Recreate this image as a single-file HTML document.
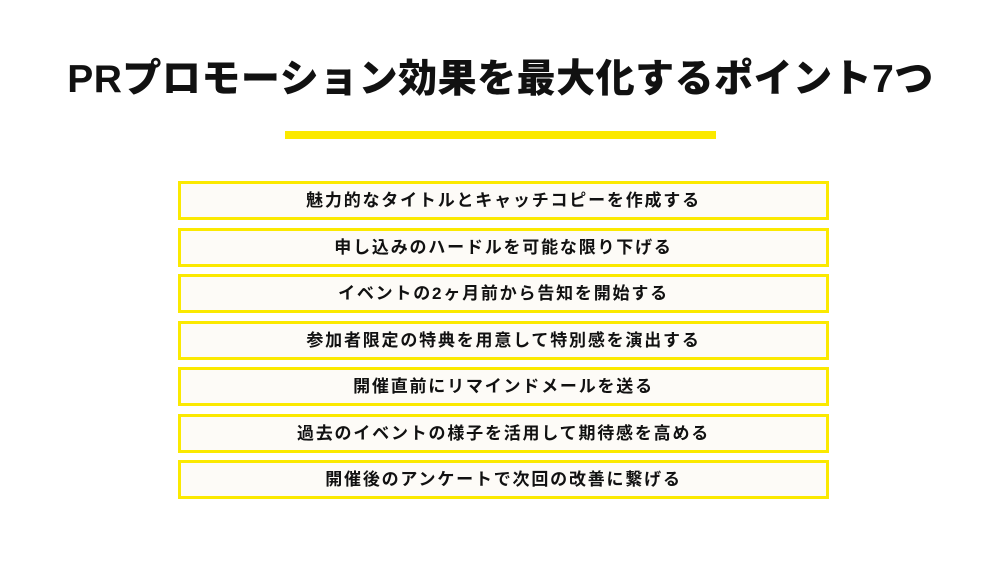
<!DOCTYPE html>
<html><head><meta charset="utf-8"><style>
body{margin:0;width:1001px;height:563px;background:#fff;position:relative;overflow:hidden;font-family:"Liberation Sans","Noto Sans CJK JP",sans-serif;}
h1{position:absolute;top:52px;left:0;width:1001px;text-align:center;margin:0;font-size:39px;font-weight:900;color:#111;line-height:56px;letter-spacing:0.5px}
.bar{position:absolute;left:285px;top:131px;width:431px;height:8px;background:#fbe900}
.box{position:absolute;left:178px;width:645px;height:33px;border:3px solid #fbe900;background:#fdfbf7;text-align:center;font-size:17px;font-weight:bold;line-height:33px;color:#111;letter-spacing:1.8px}
</style></head><body>
<h1>PRプロモーション効果を最大化するポイント7つ</h1>
<div class="bar"></div>
<div class="box" style="top:181px">魅力的なタイトルとキャッチコピーを作成する</div>
<div class="box" style="top:228px">申し込みのハードルを可能な限り下げる</div>
<div class="box" style="top:274px">イベントの2ヶ月前から告知を開始する</div>
<div class="box" style="top:321px">参加者限定の特典を用意して特別感を演出する</div>
<div class="box" style="top:367px">開催直前にリマインドメールを送る</div>
<div class="box" style="top:414px">過去のイベントの様子を活用して期待感を高める</div>
<div class="box" style="top:460px">開催後のアンケートで次回の改善に繋げる</div>
</body></html>
